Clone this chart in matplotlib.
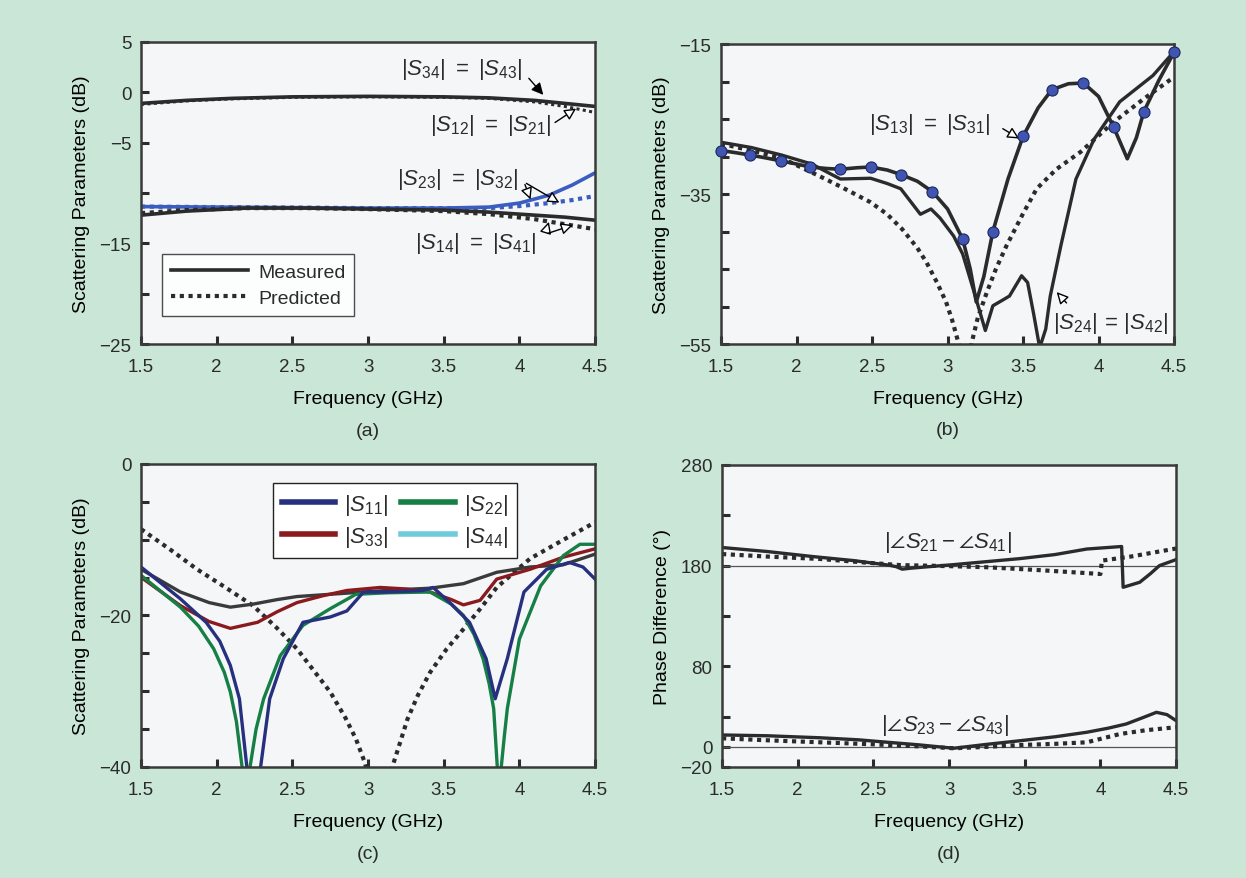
import numpy as np
import matplotlib
matplotlib.use("Agg")
import matplotlib.pyplot as plt

plt.rcParams['font.family'] = ['Liberation Sans', 'DejaVu Sans']
plt.rcParams['mathtext.fontset'] = 'custom'
plt.rcParams['mathtext.rm'] = 'Liberation Sans'
plt.rcParams['mathtext.it'] = 'Liberation Sans:italic'
plt.rcParams['mathtext.sf'] = 'Liberation Sans'
plt.rcParams['text.color'] = '#2b2b2b'

# ---------------- data ----------------
# (a) transmission / coupling
a_s34_f = [1.5, 1.8, 2.1, 2.5, 3.0, 3.5, 3.8, 4.1, 4.3, 4.5]
a_s34_db = [-1.1, -0.8, -0.6, -0.45, -0.4, -0.45, -0.55, -0.8, -1.1, -1.4]
a_s12_f = [1.5, 1.8, 2.1, 2.5, 3.0, 3.5, 3.8, 4.1, 4.3, 4.5]
a_s12_db = [-1.2, -0.85, -0.65, -0.5, -0.45, -0.5, -0.6, -0.95, -1.4, -2.0]
a_s23_f = [1.5, 2.0, 2.5, 3.0, 3.5, 3.8, 4.0, 4.2, 4.35, 4.5]
a_s23_db = [-11.35, -11.4, -11.45, -11.5, -11.5, -11.4, -11.0, -10.2, -9.2, -8.0]
a_s23p_db = [-11.35, -11.4, -11.45, -11.5, -11.5, -11.5, -11.3, -11.0, -10.7, -10.3]
a_s14_f = [1.5, 1.8, 2.2, 2.6, 3.0, 3.5, 3.8, 4.1, 4.3, 4.5]
a_s14_db = [-12.2, -11.8, -11.5, -11.5, -11.6, -11.7, -11.9, -12.2, -12.4, -12.7]
a_s14p_db = [-12.0, -11.7, -11.5, -11.5, -11.6, -11.8, -12.1, -12.6, -13.1, -13.6]

# (b) isolation
b_s13_f = [1.5, 1.6, 1.69, 1.8, 1.9, 2.0, 2.09, 2.2, 2.29, 2.4, 2.49, 2.6, 2.69, 2.8, 2.9,
           3.0, 3.1, 3.15, 3.19, 3.24, 3.3, 3.4, 3.5, 3.6, 3.69, 3.8, 3.9, 4.0, 4.1, 4.19,
           4.25, 4.3, 4.4, 4.5]
b_s13_db = [-29.2, -29.5, -29.8, -30.2, -30.6, -31.0, -31.4, -31.6, -31.7, -31.5, -31.4, -31.8,
            -32.4, -33.3, -34.7, -37.0, -41.0, -45.0, -49.4, -46.0, -40.0, -33.0, -27.3, -23.5,
            -21.1, -20.3, -20.2, -22.0, -26.1, -30.3, -27.5, -24.0, -19.8, -16.1]
b_s24_f = [1.5, 1.7, 1.9, 2.1, 2.29, 2.49, 2.6, 2.69, 2.82, 2.89, 2.95, 3.04, 3.1, 3.17, 3.25,
           3.3, 3.36, 3.41, 3.49, 3.53, 3.57, 3.61, 3.65, 3.68, 3.75, 3.85, 3.97, 4.14, 4.36, 4.5]
b_s24_db = [-28.1, -28.8, -29.8, -31.0, -33.0, -32.9, -33.6, -34.3, -37.7, -37.0, -38.2, -40.6,
            -43.0, -47.7, -53.2, -49.9, -49.2, -48.6, -45.9, -46.8, -51.0, -55.5, -53.0, -48.6,
            -41.9, -33.0, -27.7, -22.7, -19.2, -16.0]
b_pred_f = [1.5, 1.7, 1.9, 2.15, 2.3, 2.49, 2.6, 2.7, 2.8, 2.86, 2.93, 2.99, 3.03, 3.07, 3.1,
            3.13, 3.16, 3.2, 3.26, 3.32, 3.39, 3.5, 3.59, 3.72, 3.88, 4.1, 4.3, 4.5]
b_pred_db = [-28.3, -29.2, -30.2, -32.6, -34.1, -36.1, -37.7, -39.7, -42.2, -44.1, -46.8, -49.4,
             -51.8, -54.7, -57.0, -58.0, -54.8, -51.5, -48.1, -45.0, -41.9, -37.6, -34.3, -31.7,
             -29.4, -25.4, -22.3, -19.4]
b_mark_f = [1.5, 1.69, 1.9, 2.09, 2.29, 2.49, 2.69, 2.9, 3.1, 3.3, 3.5, 3.69, 3.9, 4.1, 4.3, 4.5]
b_mark_db = [-29.2, -29.8, -30.6, -31.4, -31.7, -31.4, -32.4, -34.7, -41.0, -40.0, -27.3, -21.1,
             -20.2, -26.1, -24.0, -16.1]

# (c) return loss
c_meas_f = [1.5, 1.76, 1.95, 2.09, 2.24, 2.4, 2.53, 2.75, 2.97, 3.2, 3.41, 3.63, 3.85, 4.07, 4.29, 4.5]
c_meas_db = [-13.9, -16.9, -18.3, -18.9, -18.5, -17.9, -17.5, -17.2, -16.9, -16.6, -16.4, -15.8,
             -14.3, -13.6, -13.3, -11.9]
c_s33_f = [1.5, 1.76, 1.95, 2.09, 2.27, 2.4, 2.53, 2.7, 2.86, 3.08, 3.25, 3.41, 3.55, 3.63, 3.74,
           3.85, 4.07, 4.29, 4.5]
c_s33_db = [-14.96, -18.7, -20.8, -21.7, -20.9, -19.5, -18.3, -17.4, -16.7, -16.3, -16.5, -16.9,
            -17.9, -18.6, -18.0, -15.2, -13.9, -12.3, -11.2]
c_s22_f = [1.5, 1.76, 1.88, 1.98, 2.05, 2.09, 2.13, 2.18, 2.22, 2.26, 2.31, 2.42, 2.57, 2.75, 2.92,
           3.13, 3.41, 3.55, 3.63, 3.7, 3.76, 3.8, 3.83, 3.86, 3.87, 3.9, 3.92, 4.0, 4.14, 4.29,
           4.4, 4.5]
c_s22_db = [-14.7, -18.9, -21.4, -24.4, -27.5, -30.1, -34.0, -42.0, -40.0, -35.0, -31.0, -25.3,
            -21.3, -19.1, -17.2, -17.0, -16.9, -18.5, -20.0, -22.5, -25.7, -29.0, -32.3, -42.0,
            -42.0, -36.0, -32.3, -23.1, -16.1, -12.1, -10.6, -10.6]
c_s11_f = [1.5, 1.76, 1.93, 2.02, 2.09, 2.15, 2.21, 2.25, 2.29, 2.35, 2.44, 2.57, 2.75, 2.86, 2.97,
           3.13, 3.36, 3.43, 3.54, 3.67, 3.78, 3.84, 3.92, 4.03, 4.18, 4.33, 4.42, 4.5]
c_s11_db = [-13.6, -17.8, -20.9, -23.4, -26.6, -31.0, -42.0, -42.0, -40.0, -31.0, -25.7, -20.9,
            -20.2, -19.4, -16.9, -16.9, -16.7, -16.3, -18.3, -20.9, -25.7, -31.0, -25.7, -16.9,
            -13.9, -13.0, -13.6, -15.2]
c_pred_f = [1.5, 1.7, 1.87, 2.05, 2.24, 2.4, 2.53, 2.65, 2.75, 2.85, 2.92, 2.98, 3.02, 3.07, 3.12,
            3.16, 3.2, 3.26, 3.33, 3.41, 3.52, 3.63, 3.75, 3.85, 4.07, 4.3, 4.5]
c_pred_db = [-8.6, -11.4, -13.9, -16.2, -18.7, -21.7, -24.4, -27.5, -30.1, -33.5, -36.3, -39.5,
             -43.0, -48.0, -44.0, -40.0, -37.5, -33.7, -30.5, -27.5, -24.4, -21.8, -18.9, -16.3,
             -12.5, -9.9, -7.7]

# (d) phase difference
d_u_f = [1.5, 1.8, 2.1, 2.37, 2.6, 2.65, 2.69, 2.75, 3.03, 3.25, 3.47, 3.7, 3.91, 4.14, 4.15,
         4.26, 4.33, 4.39, 4.5]
d_u_deg = [198, 194, 189, 185, 180.5, 179, 176.5, 177.5, 181, 184, 187, 191, 196.5, 199, 158.5,
           163.5, 172, 180, 186]
d_up_f = [1.5, 1.8, 2.15, 2.45, 2.68, 3.0, 3.25, 3.6, 4.0, 4.01, 4.2, 4.5]
d_up_deg = [191.5, 189, 186.6, 183, 180.5, 179.5, 178.4, 175.5, 171.7, 185, 189, 197]
d_l_f = [1.5, 1.8, 2.15, 2.4, 2.59, 2.8, 3.03, 3.25, 3.47, 3.7, 3.91, 4.05, 4.17, 4.28, 4.37,
         4.44, 4.5]
d_l_deg = [11.8, 11.0, 9.0, 7.0, 4.6, 2.0, -1.4, 2.5, 6.1, 10.0, 14.5, 18.5, 22.7, 29.0, 34.3,
           32.0, 26.0]
d_lp_f = [1.5, 1.8, 2.15, 2.5, 2.8, 3.03, 3.25, 3.47, 3.7, 3.91, 4.13, 4.3, 4.5]
d_lp_deg = [8.5, 6.5, 4.5, 2.5, 0.5, -1.4, 0.0, 1.8, 3.0, 4.5, 12.8, 16.5, 19.5]

# ---------------- styling ----------------
bg = '#c9e6d7'
face = '#f4f6f8'
dark = '#2b2b2b'
dot = (0, (1.0, 1.1))
c_blue = '#27307f'
c_green = '#157f45'
c_red = '#8a1a1e'
c_cyan = '#6fcbdc'
c_lblue = '#3a5dbf'
freq_ticks = [1.5, 2, 2.5, 3, 3.5, 4, 4.5]
freq_labels = ['1.5', '2', '2.5', '3', '3.5', '4', '4.5']
lab = 14
txt = 16

fig = plt.figure(figsize=(12.46, 8.79), dpi=100, facecolor=bg)
ax_a = fig.add_axes([0.1132, 0.6075, 0.3644, 0.3436])
ax_b = fig.add_axes([0.5787, 0.6075, 0.3636, 0.3413])
ax_c = fig.add_axes([0.1132, 0.1263, 0.3644, 0.3447])
ax_d = fig.add_axes([0.5795, 0.1263, 0.3644, 0.3436])

for ax, tag in [(ax_a, '(a)'), (ax_b, '(b)'), (ax_c, '(c)'), (ax_d, '(d)')]:
    ax.set_facecolor(face)
    ax.set_xlim(1.5, 4.5)
    ax.set_xticks(freq_ticks)
    ax.set_xticklabels(freq_labels)
    ax.tick_params(direction='in', length=6, width=2.2, labelsize=13.5, colors=dark)
    ax.tick_params(axis='x', pad=10)
    ax.tick_params(axis='y', pad=7)
    for sp in ax.spines.values():
        sp.set_linewidth(1.8)
        sp.set_color('#3a3a3a')
    ax.set_xlabel('Frequency (GHz)', fontsize=lab, labelpad=11)
    ax.text(0.5, -0.285, tag, transform=ax.transAxes, ha='center', va='center', fontsize=lab)

# (a)
ax_a.plot(a_s34_f, a_s34_db, color=dark, lw=2.6)
ax_a.plot(a_s12_f, a_s12_db, color=dark, lw=2.2, ls=dot)
ax_a.plot(a_s23_f, a_s23_db, color=c_lblue, lw=2.6)
ax_a.plot(a_s23_f, a_s23p_db, color=c_lblue, lw=3.0, ls=dot)
ax_a.plot(a_s14_f, a_s14_db, color=dark, lw=2.6, label='Measured')
ax_a.plot(a_s14_f, a_s14p_db, color=dark, lw=3.0, ls=dot, label='Predicted')
ax_a.set_ylim(-25, 5)
ax_a.set_yticks([5, 0, -5, -10, -15, -20, -25])
ax_a.set_yticklabels(['5', '0', '\u22125', '', '\u221215', '', '\u221225'])
ax_a.set_ylabel('Scattering Parameters (dB)', fontsize=lab, labelpad=7)
leg = ax_a.legend(loc='lower left', bbox_to_anchor=(0.046, 0.093), borderaxespad=0, fontsize=lab,
                  handlelength=4.0, handletextpad=0.5, frameon=True, fancybox=False,
                  edgecolor='#222222', borderpad=0.45, labelspacing=0.45)
leg.get_frame().set_linewidth(1.0)

open_arrow = dict(arrowstyle='-|>,head_length=0.7,head_width=0.35', fc='white', ec='black', lw=1.0)
fill_arrow = dict(arrowstyle='-|>,head_length=0.7,head_width=0.35', fc='black', ec='black', lw=1.0)
ax_a.annotate('', xy=(4.17, -0.46), xytext=(4.05, 1.6), arrowprops=fill_arrow)
ax_a.text(3.62, 2.4, r'$|S_{34}|\ =\ |S_{43}|$', ha='center', va='center', fontsize=txt)
ax_a.annotate('', xy=(4.39, -1.46), xytext=(4.22, -3.15), arrowprops=open_arrow)
ax_a.text(3.81, -3.2, r'$|S_{12}|\ =\ |S_{21}|$', ha='center', va='center', fontsize=txt)
ax_a.annotate('', xy=(4.08, -10.9), xytext=(4.03, -8.9), arrowprops=open_arrow)
ax_a.annotate('', xy=(4.28, -11.1), xytext=(4.03, -8.9), arrowprops=open_arrow)
ax_a.text(3.59, -8.6, r'$|S_{23}|\ =\ |S_{32}|$', ha='center', va='center', fontsize=txt)
ax_a.annotate('', xy=(4.2, -12.6), xytext=(4.17, -14.1), arrowprops=open_arrow)
ax_a.annotate('', xy=(4.37, -13.1), xytext=(4.17, -14.1), arrowprops=open_arrow)
ax_a.text(3.71, -14.9, r'$|S_{14}|\ =\ |S_{41}|$', ha='center', va='center', fontsize=txt)

# (b)
ax_b.plot(b_pred_f, b_pred_db, color=dark, lw=3.0, ls=dot)
ax_b.plot(b_s24_f, b_s24_db, color=dark, lw=2.4)
ax_b.plot(b_s13_f, b_s13_db, color=dark, lw=2.6)
ax_b.plot(b_mark_f, b_mark_db, ls='none', marker='o', ms=8, mfc='#3f55b0', mec='#1c2660',
          mew=0.8, clip_on=False, zorder=5)
ax_b.set_ylim(-55, -15)
ax_b.set_yticks([-15, -20, -25, -30, -35, -40, -45, -50, -55])
ax_b.set_yticklabels(['\u221215', '', '', '', '\u221235', '', '', '', '\u221255'])
ax_b.set_ylabel('Scattering Parameters (dB)', fontsize=lab, labelpad=7)
ax_b.annotate('', xy=(3.49, -27.8), xytext=(3.35, -26.1), arrowprops=open_arrow)
ax_b.text(2.88, -25.6, r'$|S_{13}|\ =\ |S_{31}|$', ha='center', va='center', fontsize=txt)
ax_b.annotate('', xy=(3.71, -47.8), xytext=(3.80, -49.8), arrowprops=open_arrow)
ax_b.text(4.08, -52.1, r'$|S_{24}|\,=\,|S_{42}|$', ha='center', va='center', fontsize=txt)

# (c)
ax_c.plot(c_pred_f, c_pred_db, color=dark, lw=3.0, ls=dot)
ax_c.plot(c_meas_f, c_meas_db, color='#3a3a3a', lw=2.4)
ax_c.plot(c_s33_f, c_s33_db, color=c_red, lw=2.4)
ax_c.plot(c_s22_f, c_s22_db, color=c_green, lw=2.4)
ax_c.plot(c_s11_f, c_s11_db, color=c_blue, lw=2.4)
h11, = ax_c.plot([], [], color=c_blue, lw=4)
h33, = ax_c.plot([], [], color=c_red, lw=4)
h22, = ax_c.plot([], [], color=c_green, lw=4)
h44, = ax_c.plot([], [], color=c_cyan, lw=4)
leg = ax_c.legend([h11, h33, h22, h44],
                  [r'$|S_{11}|$', r'$|S_{33}|$', r'$|S_{22}|$', r'$|S_{44}|$'],
                  ncol=2, loc='upper left', bbox_to_anchor=(0.29, 0.937), borderaxespad=0,
                  fontsize=txt, handlelength=2.4, handletextpad=0.4, columnspacing=0.6,
                  frameon=True, fancybox=False, edgecolor='#222222', borderpad=0.4,
                  labelspacing=0.3, framealpha=1)
leg.get_frame().set_linewidth(1.0)
ax_c.set_ylim(-40, 0)
ax_c.set_yticks([0, -5, -10, -15, -20, -25, -30, -35, -40])
ax_c.set_yticklabels(['0', '', '', '', '\u221220', '', '', '', '\u221240'])
ax_c.set_ylabel('Scattering Parameters (dB)', fontsize=lab, labelpad=7)

# (d)
ax_d.axhline(180, color='#555555', lw=0.9)
ax_d.axhline(0, color='#555555', lw=0.9)
ax_d.plot(d_up_f, d_up_deg, color=dark, lw=3.0, ls=dot)
ax_d.plot(d_u_f, d_u_deg, color=dark, lw=2.4)
ax_d.plot(d_lp_f, d_lp_deg, color=dark, lw=3.0, ls=dot)
ax_d.plot(d_l_f, d_l_deg, color=dark, lw=2.4)
ax_d.set_ylim(-20, 280)
ax_d.set_yticks([-20, 0, 30, 80, 130, 180, 230, 280])
ax_d.set_yticklabels(['\u221220', '0', '', '80', '', '180', '', '280'])
ax_d.set_ylabel('Phase Difference (\u00b0)', fontsize=lab, labelpad=7)
ax_d.text(2.99, 204, r'$|\angle S_{21} - \angle S_{41}|$', ha='center', va='center', fontsize=txt)
ax_d.text(2.97, 22, r'$|\angle S_{23} - \angle S_{43}|$', ha='center', va='center', fontsize=txt)

fig.savefig('out.png', dpi=100, facecolor=bg)
